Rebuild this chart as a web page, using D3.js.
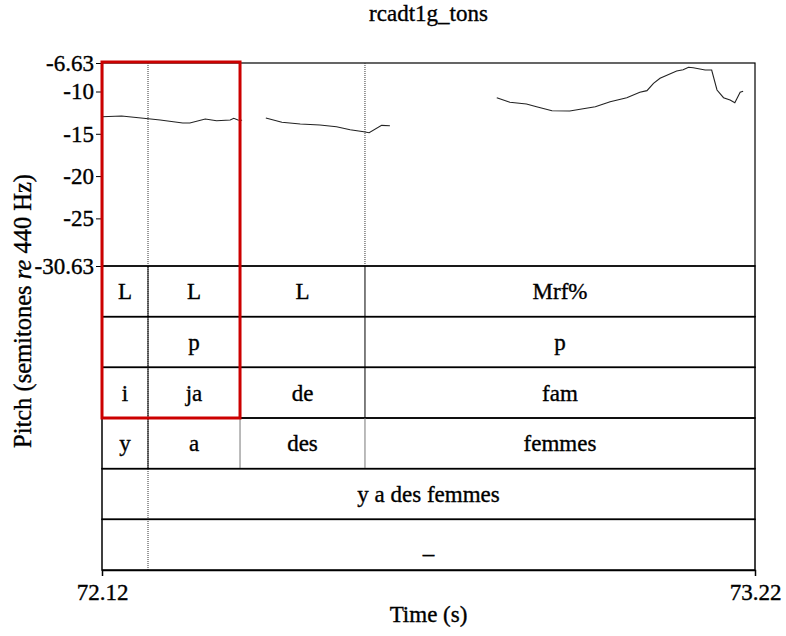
<!DOCTYPE html>
<html>
<head>
<meta charset="utf-8">
<script src="https://cdn.jsdelivr.net/npm/d3@7"></script>
<style>
  body { margin: 0; background: #fff; }
  svg { display: block; }
</style>
</head>
<body>
<svg id="chart" width="786" height="636"></svg>
<script>
// ---- data ----
const title = "rcadt1g_tons";
const timeDomain = [72.12, 73.22];
const pitchDomain = [-30.63, -6.63];
const pitchTicks = [-6.63, -10, -15, -20, -25, -30.63];
const timeTicks = [72.12, 73.22];

// pitch contour segments: [time (s), semitones re 440 Hz]
const pitchSeg1 = [[72.120,-12.98],[72.153,-12.90],[72.198,-13.22],[72.218,-13.37],[72.256,-13.72],[72.268,-13.72],[72.294,-13.25],[72.313,-13.45],[72.336,-13.37],[72.342,-13.17],[72.349,-13.37],[72.356,-13.40]];
const pitchSeg2 = [[72.396,-13.13],[72.423,-13.64],[72.454,-13.84],[72.487,-13.96],[72.515,-14.16],[72.538,-14.52],[72.561,-14.75],[72.570,-14.87],[72.591,-14.00],[72.605,-14.04]];
const pitchSeg3 = [[72.785,-10.73],[72.807,-11.28],[72.835,-11.48],[72.852,-11.80],[72.878,-12.27],[72.908,-12.31],[72.928,-12.07],[72.951,-11.80],[72.976,-11.21],[73.004,-10.73],[73.026,-10.09],[73.038,-9.90],[73.049,-9.03],[73.060,-8.44],[73.088,-7.58],[73.099,-7.42],[73.108,-7.14],[73.116,-7.19],[73.136,-7.46],[73.147,-7.46],[73.156,-9.82],[73.167,-10.73],[73.178,-11.00],[73.186,-11.32],[73.195,-10.09],[73.200,-9.98]];

// annotation tiers
const syllableBounds = [72.12, 72.1975, 72.3525, 72.563, 73.22];
const tier1Labels = ["L", "L", "L", "Mrf%"];
const tier2Labels = ["", "p", "", "p"];
const tier3Labels = ["i", "ja", "de", "fam"];
const tier4Labels = ["y", "a", "des", "femmes"];
const phraseBounds = [72.12, 73.22];
const tier5Labels = ["y a des femmes"];
const tier6Labels = ["_"];

// cursor (dotted) lines
const cursorFull = [72.1975];
const cursorPitch = [72.563];
// highlighted region: time span and tiers covered
const highlightTime = [72.12, 72.3525];
const highlightTierCount = 3;

(function () {
const FONT = "Liberation Serif";
const FS = 23;
const svg = d3.select("#chart").attr("font-family", FONT);
const mLeft = 102, mRight = 755, mTop = 63, pitchBottom = 266, mBottom = 570;
const nTiers = 6;
const tierH = (mBottom - pitchBottom) / nTiers;

const x = d3.scaleLinear().domain(timeDomain).range([mLeft, mRight]);
const y = d3.scaleLinear().domain(pitchDomain).range([pitchBottom, mTop]);

function styleText(sel, size) {
  return sel.attr("font-family", FONT).attr("font-size", size || FS)
    .attr("fill", "#000").attr("stroke", "#000").attr("stroke-width", 0.35);
}

// title
styleText(svg.append("text").attr("x", (mLeft + mRight) / 2).attr("y", 21)
  .attr("text-anchor", "middle").text(title));

// pitch frame
svg.append("rect").attr("x", mLeft).attr("y", mTop).attr("width", mRight - mLeft).attr("height", pitchBottom - mTop)
  .attr("fill", "none").attr("stroke", "#000").attr("stroke-width", 1.2);

// y axis
const yAxis = d3.axisLeft(y).tickValues(pitchTicks).tickFormat(d => String(d)).tickSizeOuter(0).tickSize(6).tickPadding(2);
const yg = svg.append("g").attr("transform", `translate(${mLeft},0)`).call(yAxis).attr("font-family", FONT);
yg.select(".domain").attr("stroke", "#000").attr("stroke-width", 1.2);
yg.selectAll(".tick line").attr("stroke", "#000");
styleText(yg.selectAll(".tick text"));

// y label
const yl = styleText(svg.append("text").attr("transform", `translate(31,311) rotate(-90)`)
  .attr("text-anchor", "middle"), 24.5);
yl.append("tspan").text("Pitch (semitones ");
yl.append("tspan").attr("font-style", "italic").text("re");
yl.append("tspan").text(" 440 Hz)");

// cursor lines
svg.selectAll(".cursorFull").data(cursorFull).enter().append("line")
  .attr("x1", d => x(d)).attr("x2", d => x(d)).attr("y1", mTop).attr("y2", mBottom)
  .attr("stroke", "#333").attr("stroke-width", 1).attr("stroke-dasharray", "1,1");
svg.selectAll(".cursorPitch").data(cursorPitch).enter().append("line")
  .attr("x1", d => x(d)).attr("x2", d => x(d)).attr("y1", mTop).attr("y2", pitchBottom)
  .attr("stroke", "#333").attr("stroke-width", 1).attr("stroke-dasharray", "1,1");

// pitch curve
const line = d3.line().x(d => x(d[0])).y(d => y(d[1]));
svg.selectAll(".pitch").data([pitchSeg1, pitchSeg2, pitchSeg3]).enter().append("path")
  .attr("d", line).attr("fill", "none").attr("stroke", "#222").attr("stroke-width", 1.1);

// tiers
const tiers = [
  {bounds: syllableBounds, labels: tier1Labels},
  {bounds: syllableBounds, labels: tier2Labels},
  {bounds: syllableBounds, labels: tier3Labels},
  {bounds: syllableBounds, labels: tier4Labels, gray: true},
  {bounds: phraseBounds, labels: tier5Labels},
  {bounds: phraseBounds, labels: tier6Labels}
];
tiers.forEach((tier, i) => {
  const y0 = pitchBottom + i * tierH, y1 = y0 + tierH;
  const g = svg.append("g");
  g.append("rect").attr("x", mLeft).attr("y", y0).attr("width", mRight - mLeft).attr("height", tierH)
    .attr("fill", "none").attr("stroke", "#000").attr("stroke-width", 1.5);
  tier.bounds.slice(1, -1).forEach((b, j) => {
    g.append("line").attr("x1", x(b)).attr("x2", x(b)).attr("y1", y0).attr("y2", y1)
      .attr("stroke", tier.gray && j > 0 ? "#777" : "#000").attr("stroke-width", 1);
  });
  tier.labels.forEach((lab, j) => {
    if (!lab) return;
    styleText(g.append("text").attr("x", (x(tier.bounds[j]) + x(tier.bounds[j + 1])) / 2)
      .attr("y", (y0 + y1) / 2 + 8).attr("text-anchor", "middle").text(lab));
  });
});

// x axis
const xAxis = d3.axisBottom(x).tickValues(timeTicks).tickFormat(d3.format(".2f")).tickSizeOuter(0).tickSize(6).tickPadding(8);
const xg = svg.append("g").attr("transform", `translate(0,${mBottom})`).call(xAxis).attr("font-family", FONT);
xg.select(".domain").attr("stroke", "#000").attr("stroke-width", 1.5);
xg.selectAll(".tick line").attr("stroke", "#000");
styleText(xg.selectAll(".tick text"));

styleText(svg.append("text").attr("x", (mLeft + mRight) / 2).attr("y", 622).attr("text-anchor", "middle")
  .text("Time (s)"));

// highlight rectangle
svg.append("rect").attr("x", x(highlightTime[0])).attr("y", mTop - 1)
  .attr("width", x(highlightTime[1]) - x(highlightTime[0]))
  .attr("height", pitchBottom + highlightTierCount * tierH - mTop + 1)
  .attr("fill", "none").attr("stroke", "#cc0000").attr("stroke-width", 3);
})();
</script>
</body>
</html>
